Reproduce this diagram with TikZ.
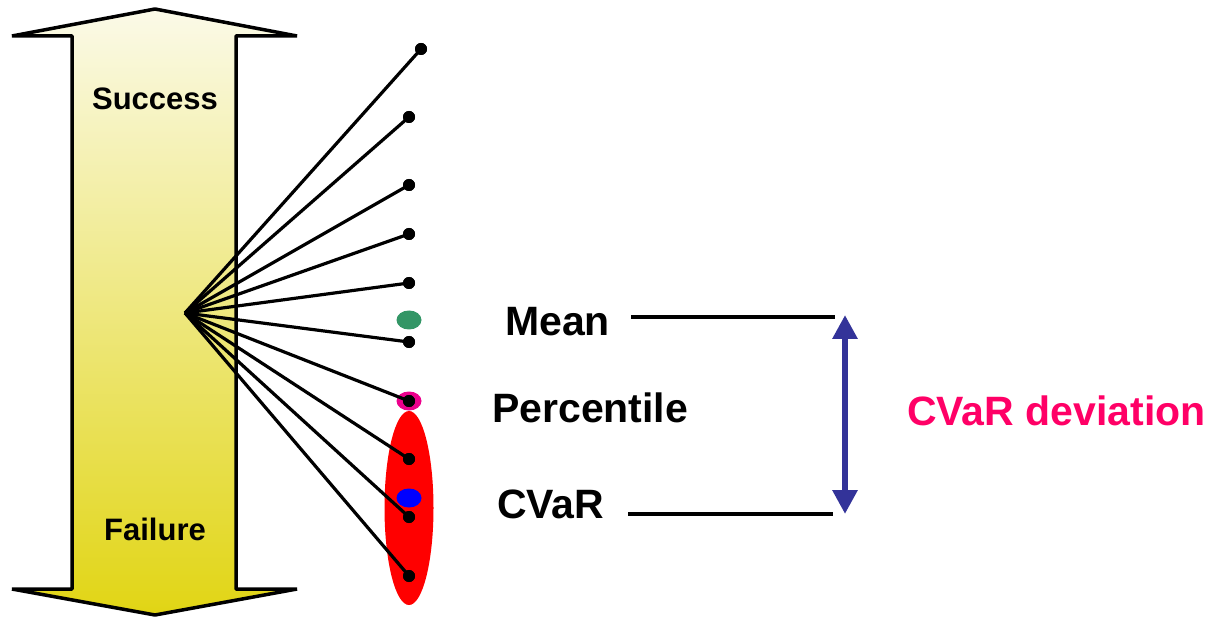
\documentclass[tikz,border=0pt]{standalone}
\usepackage{fontspec}
\setmainfont{Liberation Sans}
\usetikzlibrary{arrows.meta}
\definecolor{cream}{RGB}{251,250,232}
\definecolor{gold}{RGB}{225,213,20}
\definecolor{arrowblue}{RGB}{51,51,153}
\definecolor{pinkred}{RGB}{255,0,102}
\definecolor{mgreen}{RGB}{51,150,102}
\tikzset{
  dot/.style={circle,fill=black,inner sep=0pt,minimum size=12pt},
  fan/.style={line width=3.2pt,black},
  lbl/.style={font=\bfseries\fontsize{41}{49}\selectfont,inner sep=0pt,anchor=base west},
  sflbl/.style={font=\bfseries\fontsize{31}{37}\selectfont,inner sep=0pt,anchor=base},
  hline/.style={line width=3.2pt,black},
}
\begin{document}
\begin{tikzpicture}[x=1pt,y=-1pt]
\useasboundingbox (0,0) rectangle (1220,617);
% big double arrow
\path[draw=black,line width=3.5pt,line join=bevel,top color=cream,bottom color=gold]
  (155,9) -- (297,36) -- (236,36) -- (236,589) -- (297,589) -- (155,615)
  -- (12,589) -- (72,589) -- (72,36) -- (12,36) -- cycle;
\node[sflbl] (succ) at (155,110) {Success};
\node[sflbl] (fail) at (155,540) {Failure};
% ellipses
\fill[red] (409,508) ellipse [x radius=24.5, y radius=97];
\fill[mgreen] (409,320) ellipse [x radius=12.5, y radius=9.5];
\fill[magenta] (409,401) ellipse [x radius=12.5, y radius=9.5];
\fill[blue] (409,498) ellipse [x radius=12.5, y radius=9.5];
% fan
\coordinate (o) at (185,313);
\node[dot] (d1) at (421,49) {};
\node[dot] (d2) at (409,117) {};
\node[dot] (d3) at (409,185) {};
\node[dot] (d4) at (409,234) {};
\node[dot] (d5) at (409,283) {};
\node[dot] (d6) at (409,342) {};
\node[dot] (d7) at (409,401) {};
\node[dot] (d8) at (409,459) {};
\node[dot] (d9) at (409,517) {};
\node[dot] (d10) at (409,576) {};
\foreach \i in {1,...,10} \draw[fan] (o) -- (d\i.center);
\foreach \i in {1,...,10} \fill (d\i) circle (6pt);
% labels
\node[lbl] (mean) at (505,335) {Mean};
\node[lbl] (perc) at (492,422) {Percentile};
\node[lbl] (cvar) at (497,518) {CVaR};
\node[lbl,text=pinkred] (dev) at (907,425) {CVaR deviation};
% lines
\coordinate (m1) at (631,317);
\coordinate (m2) at (835,317);
\coordinate (c1) at (628,514);
\coordinate (c2) at (833,514);
\draw[hline] (m1) -- (m2);
\draw[hline] (c1) -- (c2);
\coordinate (a1) at (845,315);
\coordinate (a2) at (845,514);
\draw[arrowblue,line width=6pt,{Triangle[width=24pt,length=24pt]}-{Triangle[width=24pt,length=24pt]}] (a1) -- (a2);
\end{tikzpicture}
\end{document}
